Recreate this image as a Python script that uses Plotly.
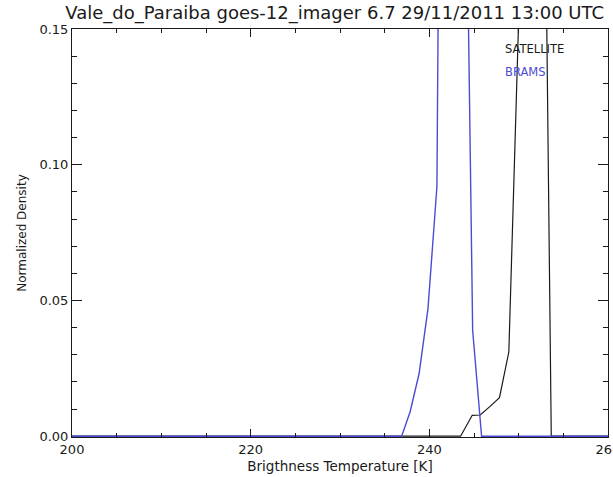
import plotly.graph_objects as go

# Normalized brightness-temperature density, GOES-12 imager channel 6.7
sat_temp = [200, 243.5, 244.8, 245.7, 246.8, 247.85, 248.9, 249.95, 251.0, 252.0, 252.65, 253.65, 260]
sat_dens = [0, 0, 0.0077, 0.0078, 0.011, 0.0142, 0.031, 0.148, 0.42, 0.55, 0.30, 0, 0]

brams_temp = [200, 236.9, 237.85, 238.85, 239.85, 240.85, 241.85, 242.85, 243.85, 244.85, 245.85, 260]
brams_dens = [0, 0, 0.009, 0.023, 0.047, 0.092, 0.55, 0.70, 0.28, 0.039, 0, 0]

x_ticks = [200, 220, 240, 260]
y_ticks = [0.00, 0.05, 0.10, 0.15]

BLUE = "#4b4bd6"
INK = "#1a1a1a"
FONT = "DejaVu Sans"

fig = go.Figure()
fig.add_trace(go.Scatter(x=sat_temp, y=sat_dens, mode="lines",
                         line=dict(color=INK, width=1.2), name="SATELLITE"))
fig.add_trace(go.Scatter(x=brams_temp, y=brams_dens, mode="lines",
                         line=dict(color=BLUE, width=1.4), name="BRAMS"))

fig.add_annotation(x=248.2, y=0.1426, xref="x", yref="y", text="SATELLITE",
                   showarrow=False, xanchor="left", yanchor="middle",
                   font=dict(family=FONT, size=11.5, color=INK))
fig.add_annotation(x=248.2, y=0.1341, xref="x", yref="y", text="BRAMS",
                   showarrow=False, xanchor="left", yanchor="middle",
                   font=dict(family=FONT, size=11.5, color=BLUE))

fig.update_layout(
    width=613, height=477,
    margin=dict(l=72, r=5, t=29, b=40, autoexpand=False),
    paper_bgcolor="white", plot_bgcolor="white",
    showlegend=False,
    font=dict(family=FONT, color=INK),
    title=dict(text="Vale_do_Paraiba goes-12_imager 6.7 29/11/2011 13:00 UTC",
               x=0.546, xanchor="center", y=1 - 13 / 477, yanchor="middle",
               font=dict(family=FONT, size=18, color=INK)),
)

fig.update_xaxes(
    range=[200, 260], tickvals=x_ticks, ticktext=[str(v) for v in x_ticks],
    ticks="inside", ticklen=8, tickwidth=1, tickcolor=INK,
    minor=dict(dtick=5, tick0=200, ticks="inside", ticklen=4, tickcolor=INK),
    showline=True, linecolor=INK, linewidth=1, mirror="allticks",
    showgrid=False, zeroline=False, automargin=False,
    ticklabeloverflow="allow",
    tickfont=dict(family=FONT, size=13, color=INK),
    title=dict(text="Brigthness Temperature [K]", standoff=5,
               font=dict(family=FONT, size=13.5, color=INK)),
)
fig.update_yaxes(
    range=[-0.0003, 0.15], tickvals=y_ticks, tickformat=".2f",
    ticks="inside", ticklen=10, tickwidth=1, tickcolor=INK,
    minor=dict(dtick=0.01, tick0=0, ticks="inside", ticklen=5, tickcolor=INK),
    showline=True, linecolor=INK, linewidth=1, mirror="allticks",
    showgrid=False, zeroline=False, automargin=False,
    tickfont=dict(family=FONT, size=13, color=INK),
    title=dict(text="Normalized Density", standoff=10,
               font=dict(family=FONT, size=12, color=INK)),
)

fig.write_html("out.html")
